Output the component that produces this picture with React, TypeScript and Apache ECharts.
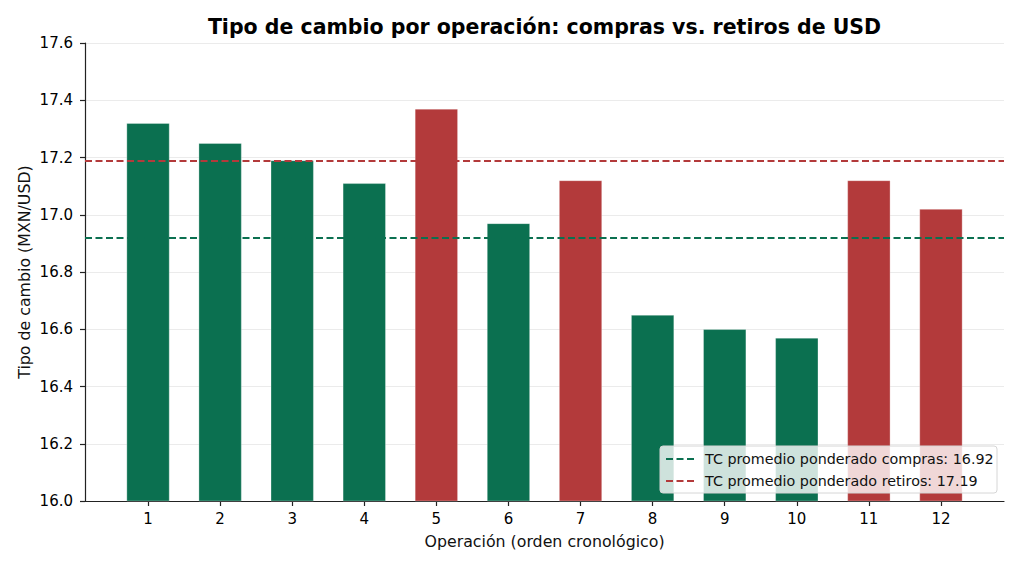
import React, { useEffect, useRef } from "react";
import * as echarts from "echarts";

const categories = ["1", "2", "3", "4", "5", "6", "7", "8", "9", "10", "11", "12"];
const rates = [17.32, 17.25, 17.19, 17.11, 17.37, 16.97, 17.12, 16.65, 16.6, 16.57, 17.12, 17.02];
const kinds = ["compra", "compra", "compra", "compra", "retiro", "compra", "retiro", "compra", "compra", "compra", "retiro", "retiro"];
const avgCompras = 16.92;
const avgRetiros = 17.19;
const yTicks = { min: 16.0, max: 17.6, step: 0.2 };

const GREEN = "#0b7050";
const RED = "#b33a3b";
const FONT = "DejaVu Sans";

export default function App() {
  const ref = useRef<HTMLDivElement>(null);
  useEffect(() => {
    if (!ref.current) return;
    const chart = echarts.init(ref.current, undefined, { renderer: "svg" });
    const gridV = { top: 43, bottom: 67 };
    const option: any = {
      animation: false,
      backgroundColor: "#ffffff",
      textStyle: { fontFamily: FONT },
      grid: [
        { left: 85, right: 18, ...gridV },
        { left: 112, right: 45, ...gridV },
      ],
      xAxis: [
        {
          type: "value",
          gridIndex: 0,
          min: 0,
          max: 1,
          axisLine: { show: true, onZero: false, lineStyle: { color: "#222", width: 1.2 } },
          axisTick: { show: false },
          axisLabel: { show: false },
          splitLine: { show: false },
        },
        {
          type: "category",
          gridIndex: 1,
          data: categories,
          boundaryGap: true,
          axisLine: { show: false },
          axisTick: { show: true, alignWithLabel: true, length: 5, lineStyle: { color: "#222", width: 1.2 } },
          axisLabel: { color: "#000", fontSize: 15, margin: 10, fontFamily: FONT },
          splitLine: { show: false },
        },
      ],
      yAxis: [
        {
          type: "value",
          gridIndex: 0,
          min: yTicks.min,
          max: yTicks.max,
          interval: yTicks.step,
          axisLine: { show: true, lineStyle: { color: "#222", width: 1.2 } },
          axisTick: { show: true, length: 5, lineStyle: { color: "#222", width: 1.2 } },
          axisLabel: { color: "#000", fontSize: 15, margin: 12, fontFamily: FONT, formatter: (v: number) => v.toFixed(1) },
          splitLine: { show: true, lineStyle: { color: "#ebebeb", width: 1 } },
        },
        {
          type: "value",
          gridIndex: 1,
          min: yTicks.min,
          max: yTicks.max,
          interval: yTicks.step,
          show: false,
          splitLine: { show: false },
        },
      ],
      series: [
        {
          type: "bar",
          xAxisIndex: 1,
          yAxisIndex: 1,
          barWidth: 43,
          z: 3,
          data: rates.map((v, i) => ({
            value: v,
            itemStyle: {
              color: kinds[i] === "compra" ? GREEN : RED,
              borderColor: "rgba(255,255,255,0.5)",
              borderWidth: 0.6,
            },
          })),
        },
        {
          type: "line",
          xAxisIndex: 0,
          yAxisIndex: 0,
          data: [],
          z: 4,
          markLine: {
            silent: true,
            symbol: "none",
            label: { show: false },
            data: [
              { yAxis: avgCompras, lineStyle: { color: GREEN, type: [7, 3.5], width: 1.9 } },
              { yAxis: avgRetiros, lineStyle: { color: RED, type: [7, 3.5], width: 1.9 } },
            ],
          },
        },
      ],
      graphic: [
        {
          type: "text",
          x: 544.5,
          y: 27,
          style: {
            text: "Tipo de cambio por operación: compras vs. retiros de USD",
            font: `bold 20.5px "${FONT}"`,
            fill: "#000",
            textAlign: "center",
            textVerticalAlign: "middle",
          },
        },
        {
          type: "text",
          x: 544.5,
          y: 541,
          style: {
            text: "Operación (orden cronológico)",
            font: `15.8px "${FONT}"`,
            fill: "#111",
            textAlign: "center",
            textVerticalAlign: "middle",
          },
        },
        {
          type: "text",
          x: 24,
          y: 272,
          rotation: Math.PI / 2,
          style: {
            text: "Tipo de cambio (MXN/USD)",
            font: `15.8px "${FONT}"`,
            fill: "#111",
            textAlign: "center",
            textVerticalAlign: "middle",
          },
        },
        {
          type: "rect",
          z: 100,
          shape: { x: 660, y: 446, width: 337, height: 47, r: 3 },
          style: { fill: "rgba(255,255,255,0.8)", stroke: "#d6d6d6", lineWidth: 1 },
        },
        {
          type: "line",
          z: 101,
          shape: { x1: 666, y1: 459, x2: 695, y2: 459 },
          style: { stroke: GREEN, lineWidth: 1.9, lineDash: [7, 3.5] },
        },
        {
          type: "line",
          z: 101,
          shape: { x1: 666, y1: 481, x2: 695, y2: 481 },
          style: { stroke: RED, lineWidth: 1.9, lineDash: [7, 3.5] },
        },
        {
          type: "text",
          z: 101,
          x: 705,
          y: 459,
          style: {
            text: `TC promedio ponderado compras: ${avgCompras.toFixed(2)}`,
            font: `14.3px "${FONT}"`,
            fill: "#111",
            textVerticalAlign: "middle",
          },
        },
        {
          type: "text",
          z: 101,
          x: 705,
          y: 481,
          style: {
            text: `TC promedio ponderado retiros: ${avgRetiros.toFixed(2)}`,
            font: `14.3px "${FONT}"`,
            fill: "#111",
            textVerticalAlign: "middle",
          },
        },
      ],
    };
    chart.setOption(option);
    return () => chart.dispose();
  }, []);
  return (
    <div
      ref={ref}
      style={{ position: "fixed", left: 0, top: 0, width: 1022, height: 568 }}
    />
  );
}
